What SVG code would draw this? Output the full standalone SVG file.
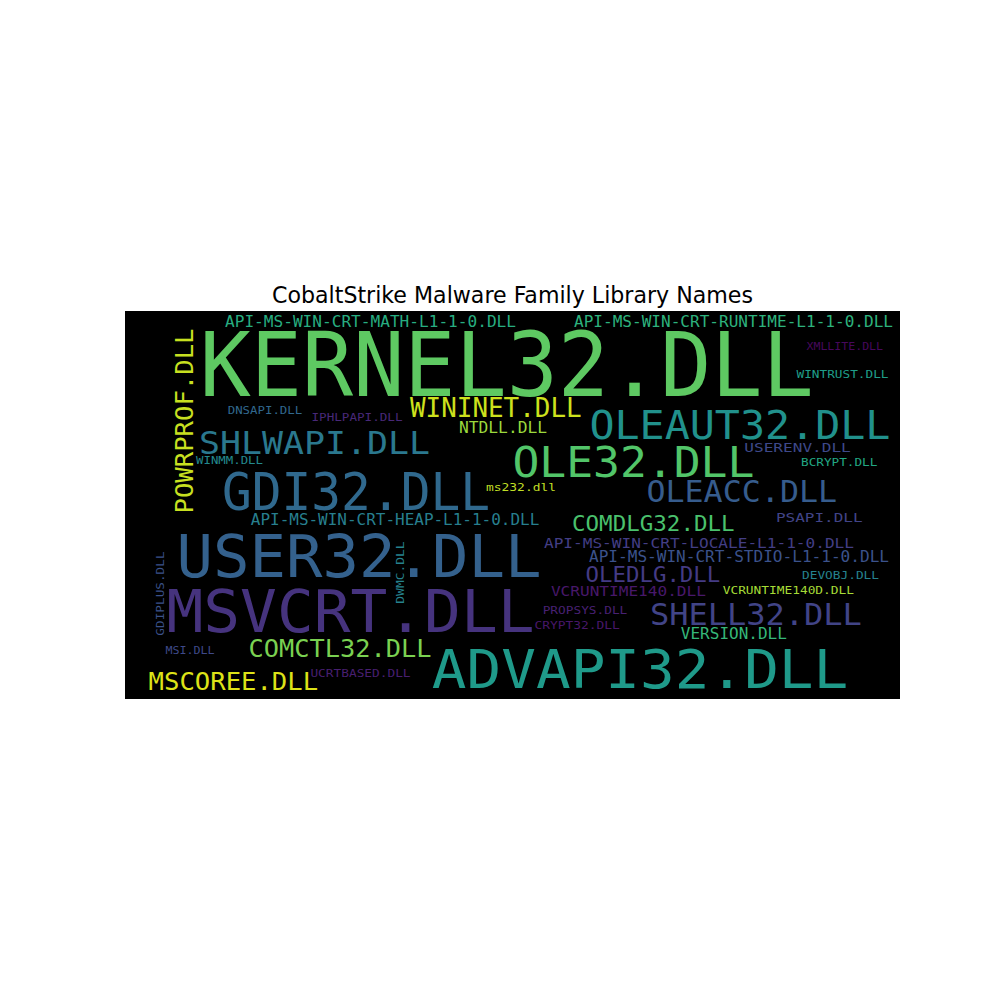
<svg xmlns="http://www.w3.org/2000/svg" width="1000" height="1000" viewBox="0 0 1000 1000">
<style>
.w{font-family:"DejaVu Sans Mono","Liberation Mono",monospace}
.t{font-family:"DejaVu Sans","Liberation Sans",sans-serif;font-size:22.2px;fill:#000}
</style>
<rect x="0" y="0" width="1000" height="1000" fill="#ffffff"/>
<text class="t" x="512.5" y="303" text-anchor="middle" textLength="481" lengthAdjust="spacingAndGlyphs">CobaltStrike Malware Family Library Names</text>
<rect x="125" y="311" width="775" height="388" fill="#000000"/>
<g id="words" class="w">
<text id="kernel32" x="199.7" y="396" font-size="89" fill="#5ec962" textLength="614" lengthAdjust="spacingAndGlyphs">KERNEL32.DLL</text>
<text id="api-math" x="225" y="327" font-size="16.4" fill="#27ad81" textLength="291" lengthAdjust="spacingAndGlyphs">API-MS-WIN-CRT-MATH-L1-1-0.DLL</text>
<text id="api-runtime" x="574" y="327" font-size="16.4" fill="#2db27d" textLength="319" lengthAdjust="spacingAndGlyphs">API-MS-WIN-CRT-RUNTIME-L1-1-0.DLL</text>
<text id="powrprof" transform="translate(193,512) rotate(-90)" x="-1.5" y="0" font-size="24.7" fill="#c8e020" textLength="185" lengthAdjust="spacingAndGlyphs">POWRPROF.DLL</text>
<text id="wininet" x="410" y="417" font-size="27.4" fill="#cde11d" textLength="171.6" lengthAdjust="spacingAndGlyphs">WININET.DLL</text>
<text id="ntdll" x="459" y="433" font-size="15" fill="#9bd93c" textLength="88" lengthAdjust="spacingAndGlyphs">NTDLL.DLL</text>
<text id="ms232" x="486" y="491" font-size="11" fill="#c0df25" textLength="70" lengthAdjust="spacingAndGlyphs">ms232.dll</text>
<text id="dnsapi" x="227.7" y="413.5" font-size="10.5" fill="#31688e" textLength="74.5" lengthAdjust="spacingAndGlyphs">DNSAPI.DLL</text>
<text id="iphlpapi" x="311.5" y="421" font-size="10.5" fill="#482878" textLength="91" lengthAdjust="spacingAndGlyphs">IPHLPAPI.DLL</text>
<text id="shlwapi" x="199" y="453.5" font-size="32" fill="#2a788e" textLength="231" lengthAdjust="spacingAndGlyphs">SHLWAPI.DLL</text>
<text id="winmm" x="196" y="463.5" font-size="10" fill="#23898e" textLength="67" lengthAdjust="spacingAndGlyphs">WINMM.DLL</text>
<text id="gdi32" x="222" y="510" font-size="50.7" fill="#30698e" textLength="268" lengthAdjust="spacingAndGlyphs">GDI32.DLL</text>
<text id="xmllite" x="806.5" y="350" font-size="11" fill="#46085c" textLength="76.5" lengthAdjust="spacingAndGlyphs">XMLLITE.DLL</text>
<text id="wintrust" x="796.5" y="378" font-size="11" fill="#1f9e89" textLength="92" lengthAdjust="spacingAndGlyphs">WINTRUST.DLL</text>
<text id="oleaut32" x="589.4" y="438.5" font-size="38.8" fill="#21918c" textLength="301" lengthAdjust="spacingAndGlyphs">OLEAUT32.DLL</text>
<text id="userenv" x="744.3" y="452" font-size="12.5" fill="#3e4989" textLength="106.5" lengthAdjust="spacingAndGlyphs">USERENV.DLL</text>
<text id="bcrypt" x="801" y="466" font-size="10.5" fill="#22a884" textLength="76.3" lengthAdjust="spacingAndGlyphs">BCRYPT.DLL</text>
<text id="ole32" x="512.4" y="477" font-size="43" fill="#52c569" textLength="242" lengthAdjust="spacingAndGlyphs">OLE32.DLL</text>
<text id="oleacc" x="646.4" y="502" font-size="31" fill="#365c8d" textLength="190.7" lengthAdjust="spacingAndGlyphs">OLEACC.DLL</text>
<text id="api-heap" x="250.8" y="524.5" font-size="15" fill="#277f8e" textLength="288.5" lengthAdjust="spacingAndGlyphs">API-MS-WIN-CRT-HEAP-L1-1-0.DLL</text>
<text id="user32" x="176.5" y="577" font-size="59" fill="#34618d" textLength="365" lengthAdjust="spacingAndGlyphs">USER32.DLL</text>
<text id="dwmc" transform="translate(404,603) rotate(-90)" x="-0.7" y="0" font-size="11" fill="#26828e" textLength="62.3" lengthAdjust="spacingAndGlyphs">DWMC.DLL</text>
<text id="gdiplus" transform="translate(164,635) rotate(-90)" x="-0.7" y="0" font-size="11" fill="#3b528b" textLength="84.3" lengthAdjust="spacingAndGlyphs">GDIPLUS.DLL</text>
<text id="msvcrt" x="166.5" y="632" font-size="58" fill="#46337e" textLength="368" lengthAdjust="spacingAndGlyphs">MSVCRT.DLL</text>
<text id="msi" x="165.4" y="653.5" font-size="10" fill="#3e4989" textLength="49.2" lengthAdjust="spacingAndGlyphs">MSI.DLL</text>
<text id="comctl32" x="248.6" y="657" font-size="24" fill="#7ad151" textLength="183" lengthAdjust="spacingAndGlyphs">COMCTL32.DLL</text>
<text id="advapi32" x="431.8" y="688" font-size="54" fill="#1f9a8a" textLength="416.5" lengthAdjust="spacingAndGlyphs">ADVAPI32.DLL</text>
<text id="mscoree" x="148.6" y="690" font-size="24" fill="#dde318" textLength="169.5" lengthAdjust="spacingAndGlyphs">MSCOREE.DLL</text>
<text id="ucrtbased" x="310.4" y="677" font-size="10" fill="#481f70" textLength="100.2" lengthAdjust="spacingAndGlyphs">UCRTBASED.DLL</text>
<text id="comdlg32" x="572" y="531" font-size="21.5" fill="#4ac16d" textLength="162.6" lengthAdjust="spacingAndGlyphs">COMDLG32.DLL</text>
<text id="psapi" x="776" y="522" font-size="13" fill="#414487" textLength="86.6" lengthAdjust="spacingAndGlyphs">PSAPI.DLL</text>
<text id="api-locale" x="544" y="547.5" font-size="14.5" fill="#433e85" textLength="310" lengthAdjust="spacingAndGlyphs">API-MS-WIN-CRT-LOCALE-L1-1-0.DLL</text>
<text id="api-stdio" x="589" y="562" font-size="15" fill="#3b528b" textLength="300" lengthAdjust="spacingAndGlyphs">API-MS-WIN-CRT-STDIO-L1-1-0.DLL</text>
<text id="oledlg" x="585.5" y="582" font-size="20.5" fill="#443b84" textLength="134.8" lengthAdjust="spacingAndGlyphs">OLEDLG.DLL</text>
<text id="devobj" x="802" y="578.5" font-size="11" fill="#26828e" textLength="77" lengthAdjust="spacingAndGlyphs">DEVOBJ.DLL</text>
<text id="vcruntime140" x="550.9" y="596" font-size="14" fill="#48186a" textLength="155" lengthAdjust="spacingAndGlyphs">VCRUNTIME140.DLL</text>
<text id="vcruntime140d" x="722.7" y="594" font-size="10.5" fill="#a5db36" textLength="131.3" lengthAdjust="spacingAndGlyphs">VCRUNTIME140D.DLL</text>
<text id="propsys" x="542.7" y="613.5" font-size="10" fill="#482173" textLength="84.6" lengthAdjust="spacingAndGlyphs">PROPSYS.DLL</text>
<text id="shell32" x="649.9" y="624.5" font-size="30.5" fill="#414487" textLength="212" lengthAdjust="spacingAndGlyphs">SHELL32.DLL</text>
<text id="crypt32" x="534.4" y="629" font-size="10" fill="#481769" textLength="85.5" lengthAdjust="spacingAndGlyphs">CRYPT32.DLL</text>
<text id="version" x="680.8" y="638.5" font-size="15" fill="#35b779" textLength="106.1" lengthAdjust="spacingAndGlyphs">VERSION.DLL</text>
</g>
</svg>
